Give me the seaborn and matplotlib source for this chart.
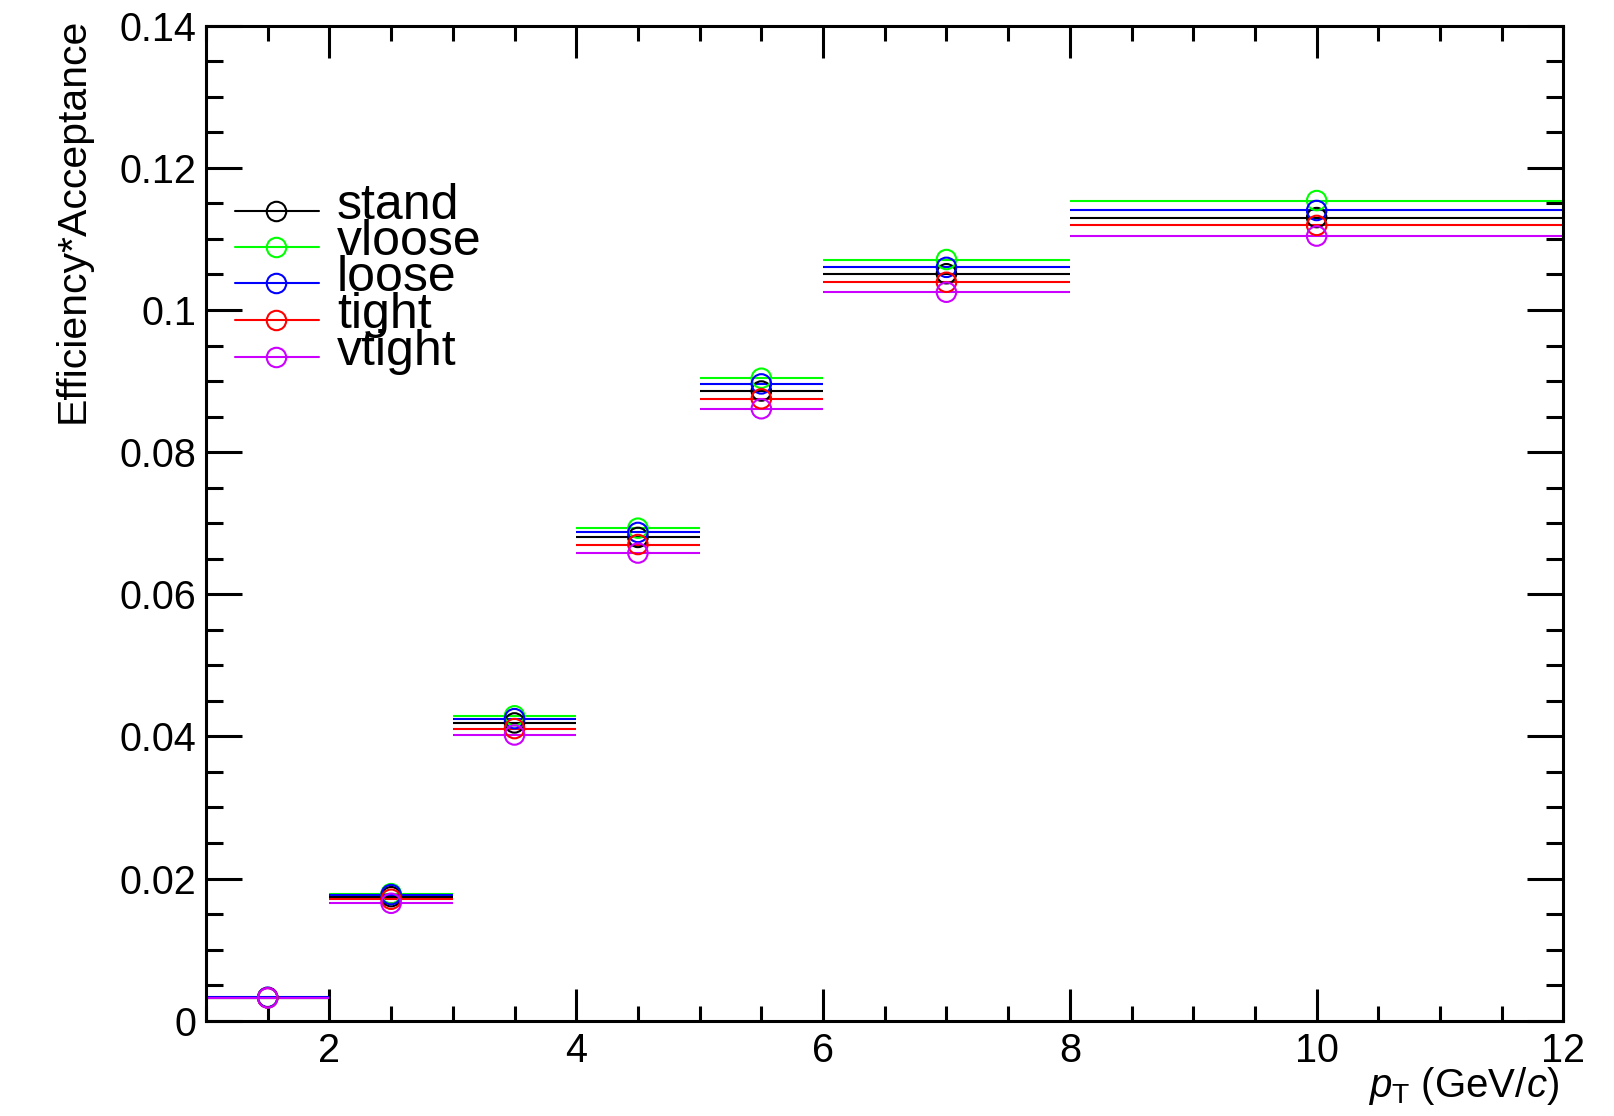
import numpy as np
import pandas as pd
import matplotlib
matplotlib.use("Agg")
import matplotlib.pyplot as plt
from matplotlib.lines import Line2D
from matplotlib.ticker import FuncFormatter, MultipleLocator, FixedLocator
import seaborn as sns

# pT bins (GeV/c)
bin_edges = [1, 2, 3, 4, 5, 6, 8, 12]

# efficiency x acceptance per selection
stand = [0.00324, 0.01745, 0.0419, 0.0680, 0.0886, 0.1051, 0.1130]
vloose = [0.00325, 0.01788, 0.0429, 0.0693, 0.0904, 0.1071, 0.1154]
loose = [0.00330, 0.01774, 0.0425, 0.0687, 0.0896, 0.1060, 0.1140]
tight = [0.00322, 0.01709, 0.0411, 0.0670, 0.0875, 0.1039, 0.1119]
vtight = [0.00320, 0.01652, 0.0402, 0.0658, 0.0861, 0.1025, 0.1104]

series_names = ["stand", "vloose", "loose", "tight", "vtight"]
series_colors = ["#000000", "#00ff00", "#0000ff", "#ff0000", "#cc00ff"]

sns.set_theme(style="ticks")
plt.rcParams["font.family"] = ["Liberation Sans", "DejaVu Sans"]
plt.rcParams["mathtext.fontset"] = "custom"
plt.rcParams["mathtext.rm"] = "Liberation Sans"
plt.rcParams["mathtext.it"] = "Liberation Sans:italic"

W, H = 1615, 1116
fig = plt.figure(figsize=(W / 100, H / 100), dpi=100)
ax = fig.add_axes([206 / W, 1 - 1020.7 / H, 1357.5 / W, 995 / H])

edges = np.array(bin_edges, dtype=float)
lo, hi = edges[:-1], edges[1:]
centers = 0.5 * (lo + hi)

rows = []
for name, vals in zip(series_names, [stand, vloose, loose, tight, vtight]):
    for c, l, h, v in zip(centers, lo, hi, vals):
        rows.append({"sel": name, "pt": c, "lo": l, "hi": h, "eff": v})
df = pd.DataFrame(rows)

for name, color in zip(series_names, series_colors):
    d = df[df["sel"] == name]
    ax.hlines(d["eff"], d["lo"], d["hi"], color=color, lw=1.5, zorder=2)
    sns.scatterplot(data=d, x="pt", y="eff", ax=ax, marker="o", s=196,
                    facecolor="none", edgecolor=color, linewidth=1.5,
                    zorder=3, legend=False)

ax.set_xlim(1, 12)
ax.set_ylim(0, 0.14)

ax.xaxis.set_major_locator(FixedLocator([2, 4, 6, 8, 10, 12]))
ax.xaxis.set_minor_locator(MultipleLocator(0.5))
ax.yaxis.set_major_locator(MultipleLocator(0.02))
ax.yaxis.set_minor_locator(MultipleLocator(0.005))
ax.yaxis.set_major_formatter(FuncFormatter(lambda v, p: "%g" % round(v, 4)))
ax.xaxis.set_major_formatter(FuncFormatter(lambda v, p: "%g" % v))

for s in ax.spines.values():
    s.set_linewidth(2.2)
    s.set_color("black")

ax.tick_params(axis="both", which="both", direction="in", color="black",
               width=2.2, top=True, right=True, labelsize=28.5, labelcolor="black")
ax.tick_params(axis="y", which="major", length=26, pad=7)
ax.tick_params(axis="y", which="minor", length=12)
ax.tick_params(axis="x", which="major", length=23, pad=8)
ax.tick_params(axis="x", which="minor", length=11)

ax.set_xlabel(r"$p_{\mathrm{T}}$ (GeV/$c$)", fontsize=29, loc="right", color="black")
ax.xaxis.set_label_coords(0.997, -0.045)
ax.set_ylabel("Efficiency*Acceptance", fontsize=29.5, loc="top", color="black")
ax.yaxis.set_label_coords(-0.084, 1.008)

# legend block
row_y = [211, 247, 283, 320, 357]
for name, color, yp in zip(series_names, series_colors, row_y):
    fy = 1 - yp / H
    fig.add_artist(Line2D([235 / W, 319 / W], [fy, fy], color=color, lw=1.5,
                          transform=fig.transFigure))
    fig.add_artist(Line2D([276 / W], [fy], marker="o", ms=14, mfc="none",
                          mec=color, mew=1.5, transform=fig.transFigure))
    fig.text(337 / W, 1 - (yp + 8) / H, name, fontsize=36, color="black",
             ha="left", va="baseline")

fig.savefig("out.png", dpi=100, facecolor="white")
